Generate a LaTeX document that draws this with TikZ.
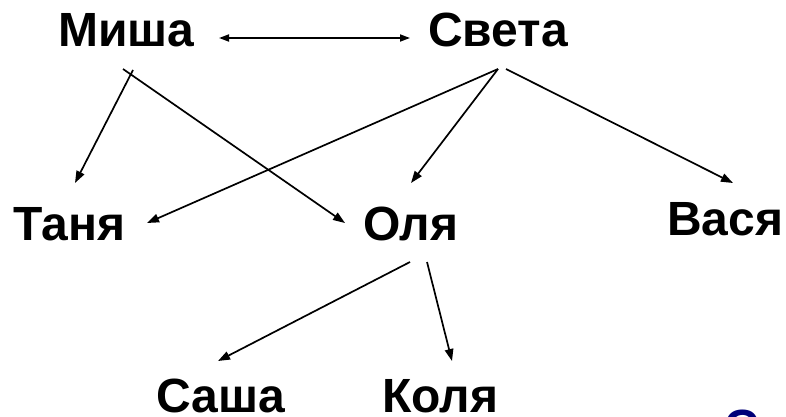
\documentclass[tikz,border=0pt]{standalone}
\usepackage{fontspec}
\setmainfont{Liberation Sans}
\usetikzlibrary{arrows.meta}
\definecolor{navytext}{RGB}{0,0,120}
\begin{document}
\begin{tikzpicture}[x=1pt,y=-1pt,
  person/.style={font=\bfseries\fontsize{48}{48}\selectfont, anchor=base west, inner sep=0pt},
  link/.style={line width=1.7pt, -{Triangle[length=12pt,width=8.5pt]}},
  dlink/.style={line width=1.7pt, {Triangle[length=10pt,width=7pt]}-{Triangle[length=10pt,width=7pt]}}]
\useasboundingbox (0,0) rectangle (786,417);
% names
\node[person] (misha) at (58,47) {Миша};
\node[person] (sveta) at (428,47) {Света};
\node[person] (tanya) at (13,240) {Таня};
\node[person] (olya)  at (363,240) {Оля};
\node[person] (vasya) at (667,235) {Вася};
\node[person] (sasha) at (156,412) {Саша};
\node[person] (kolya) at (382,412) {Коля};
\begin{scope}
\clip (0,0) rectangle (786,417);
\node[person, text=navytext] (extra) at (724,443) {С};
\end{scope}
% connector ends
\coordinate (mishaR) at (219,38);
\coordinate (svetaL) at (410,38);
\coordinate (mishaA) at (133,70);
\coordinate (mishaB) at (123,69);
\coordinate (svetaA) at (498,69);
\coordinate (svetaB) at (506,69);
\coordinate (tanyaA) at (75,183);
\coordinate (tanyaB) at (147,223);
\coordinate (olyaA) at (345,223);
\coordinate (olyaB) at (411,183);
\coordinate (vasyaA) at (733,183);
\coordinate (olyaC) at (410,262);
\coordinate (olyaD) at (427,262);
\coordinate (sashaA) at (218,361);
\coordinate (kolyaA) at (452,361);
% connectors
\draw[dlink] (mishaR) -- (svetaL);
\draw[link] (mishaA) -- (tanyaA);
\draw[link] (mishaB) -- (olyaA);
\draw[link] (svetaA) -- (tanyaB);
\draw[link] (svetaA) -- (olyaB);
\draw[link] (svetaB) -- (vasyaA);
\draw[link] (olyaC) -- (sashaA);
\draw[link] (olyaD) -- (kolyaA);
\end{tikzpicture}
\end{document}
